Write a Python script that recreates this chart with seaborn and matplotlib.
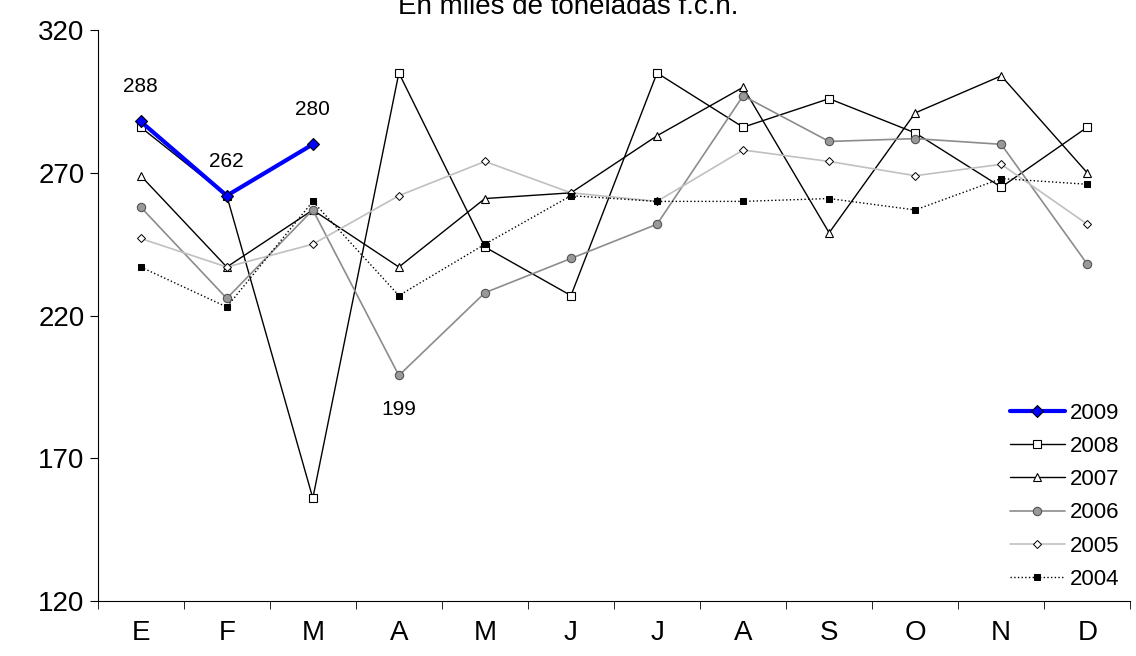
import numpy as np
import pandas as pd
import matplotlib
matplotlib.use("Agg")
import matplotlib.pyplot as plt
import seaborn as sns

months = ['E', 'F', 'M', 'A', 'M', 'J', 'J', 'A', 'S', 'O', 'N', 'D']
y2009 = [288, 262, 280]
y2008 = [286, 262, 156, 305, 244, 227, 305, 286, 296, 284, 265, 286]
y2007 = [269, 237, 257, 237, 261, 263, 283, 300, 249, 291, 304, 270]
y2006 = [258, 226, 257, 199, 228, 240, 252, 297, 281, 282, 280, 238]
y2005 = [247, 237, 245, 262, 274, 263, 260, 278, 274, 269, 273, 252]
y2004 = [237, 223, 260, 227, 245, 262, 260, 260, 261, 257, 268, 266]

sns.set_style("white")
plt.rcParams['font.family'] = ['Liberation Sans', 'DejaVu Sans']
plt.rcParams['text.color'] = 'black'
plt.rcParams['xtick.color'] = 'black'
plt.rcParams['ytick.color'] = 'black'

fig = plt.figure(figsize=(11.36, 6.56), dpi=100)
ax = fig.add_axes([0.086, 0.084, 0.909, 0.87])

styles = [
    ('2009', y2009, dict(color='#0000ff', lw=3, marker='D', ms=6, mfc='#0000ff', mec='black', mew=0.8, zorder=10)),
    ('2008', y2008, dict(color='black', lw=1, marker='s', ms=6, mfc='white', mec='black', mew=0.8)),
    ('2007', y2007, dict(color='black', lw=1, marker='^', ms=6, mfc='white', mec='black', mew=0.8)),
    ('2006', y2006, dict(color='#8c8c8c', lw=1.2, marker='o', ms=6, mfc='#999999', mec='#555555', mew=0.8)),
    ('2005', y2005, dict(color='#c0c0c0', lw=1.2, marker='D', ms=4.5, mfc='white', mec='black', mew=0.7)),
    ('2004', y2004, dict(color='black', lw=1, ls=':', marker='s', ms=5, mfc='black', mec='black')),
]
for name, vals, kw in styles:
    df = pd.DataFrame({'x': np.arange(len(vals)), 'y': vals})
    sns.lineplot(data=df, x='x', y='y', ax=ax, label=name, **kw)

for i, txt_y in [(0, 288), (1, 262), (2, 280)]:
    ax.annotate(str(txt_y), (i, txt_y), xytext=(0, 18), textcoords='offset points',
                ha='center', va='bottom', fontsize=15)
ax.annotate('199', (3, 199), xytext=(0, -18), textcoords='offset points',
            ha='center', va='top', fontsize=15)

ax.set_xlim(-0.5, 11.5)
ax.set_ylim(120, 320)
ax.set_yticks([120, 170, 220, 270, 320])
ax.set_xticks(np.arange(12))
ax.set_xticklabels(months, fontsize=20)
ax.set_xticks(np.arange(-0.5, 12, 1), minor=True)
ax.tick_params(axis='x', which='major', length=0, pad=14)
ax.tick_params(axis='x', which='minor', length=6, direction='out', bottom=True, color='black')
ax.tick_params(axis='y', labelsize=20, length=6, direction='out', left=True, color='black')
ax.set_xlabel('')
ax.set_ylabel('')
for s in ['top', 'right']:
    ax.spines[s].set_visible(False)
for s in ['left', 'bottom']:
    ax.spines[s].set_color('black')
    ax.spines[s].set_linewidth(0.8)

leg = ax.legend(loc='lower right', frameon=False, fontsize=16, handlelength=2.5,
                labelspacing=0.55, handletextpad=0.2, borderaxespad=0.1)
for t in leg.get_texts():
    t.set_color('black')

fig.text(0.5, 0.99, 'En miles de toneladas f.c.n.', ha='center', va='center', fontsize=20)

fig.savefig('out.png', dpi=100)
